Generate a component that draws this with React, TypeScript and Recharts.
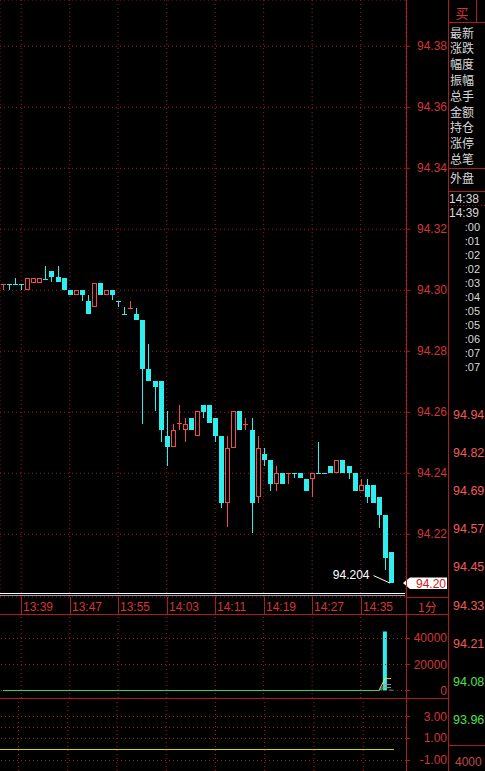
import React from "react";
import { ComposedChart, Bar, Line, XAxis, YAxis, CartesianGrid, ReferenceLine, Cell } from "recharts";

// 1-minute candles, 13:36 .. 14:40
const times = [
  "13:36", "13:37", "13:38", "13:39", "13:40", "13:41", "13:42", "13:43", "13:44", "13:45",
  "13:46", "13:47", "13:48", "13:49", "13:50", "13:51", "13:52", "13:53", "13:54", "13:55",
  "13:56", "13:57", "13:58", "13:59", "14:00", "14:01", "14:02", "14:03", "14:04", "14:05",
  "14:06", "14:07", "14:08", "14:09", "14:10", "14:11", "14:12", "14:13", "14:14", "14:15",
  "14:16", "14:17", "14:18", "14:19", "14:20", "14:21", "14:22", "14:23", "14:24", "14:25",
  "14:26", "14:27", "14:28", "14:29", "14:30", "14:31", "14:32", "14:33", "14:34", "14:35",
  "14:36", "14:37", "14:38", "14:39", "14:40",
];

const opens = [
  94.302, 94.3022, 94.3022, 94.3022, 94.3, 94.3025, 94.3025, 94.3038, 94.3063, 94.3045,
  94.304, 94.3, 94.2985, 94.3, 94.2966, 94.2944, 94.3023, 94.2985, 94.3, 94.2966,
  94.2923, 94.2942, 94.2922, 94.2903, 94.2742, 94.2704, 94.2704, 94.2523, 94.2485, 94.256,
  94.2542, 94.2582, 94.2523, 94.2624, 94.2624, 94.2582, 94.2523, 94.2304, 94.2484, 94.2604,
  94.2558, 94.2543, 94.2323, 94.2463, 94.2444, 94.2364, 94.24, 94.24, 94.2401, 94.24,
  94.2381, 94.2381, 94.2401, 94.2401, 94.2424, 94.24, 94.2444, 94.2424, 94.24, 94.2342,
  94.2362, 94.2362, 94.2323, 94.2263, 94.2143,
];
const highs = [
  94.302, 94.3022, 94.304, 94.3022, 94.304, 94.304, 94.304, 94.308, 94.3063, 94.308,
  94.304, 94.3, 94.3, 94.3, 94.2985, 94.3023, 94.3023, 94.3, 94.3, 94.2966,
  94.2944, 94.2965, 94.2942, 94.2903, 94.2824, 94.2704, 94.2704, 94.2604, 94.2562, 94.2624,
  94.2582, 94.2582, 94.2604, 94.2624, 94.2624, 94.2582, 94.2523, 94.2523, 94.2604, 94.2604,
  94.2582, 94.2582, 94.2523, 94.2484, 94.2444, 94.2425, 94.24, 94.2401, 94.2401, 94.24,
  94.2381, 94.24, 94.2502, 94.2401, 94.2424, 94.2444, 94.2444, 94.2424, 94.24, 94.2381,
  94.2381, 94.2362, 94.2323, 94.2263, 94.2143,
];
const lows = [
  94.3, 94.3, 94.302, 94.3, 94.3, 94.3025, 94.3025, 94.3036, 94.3026, 94.3026,
  94.3, 94.2985, 94.2985, 94.2966, 94.2923, 94.2944, 94.2985, 94.2985, 94.2968, 94.2944,
  94.2922, 94.2942, 94.2903, 94.2562, 94.2704, 94.2604, 94.2504, 94.2425, 94.2485, 94.2542,
  94.2504, 94.2542, 94.2523, 94.2582, 94.2564, 94.2504, 94.2285, 94.2223, 94.2484, 94.2543,
  94.2543, 94.2203, 94.2304, 94.2425, 94.2343, 94.2343, 94.2364, 94.2364, 94.2384, 94.2384,
  94.2342, 94.2323, 94.24, 94.24, 94.24, 94.24, 94.24, 94.2381, 94.2342, 94.2342,
  94.2304, 94.2304, 94.2222, 94.2083, 94.204,
];
const closes = [
  94.302, 94.302, 94.302, 94.302, 94.304, 94.304, 94.304, 94.3036, 94.3045, 94.3026,
  94.3, 94.2985, 94.3, 94.2985, 94.2923, 94.3023, 94.2985, 94.3, 94.2985, 94.2965,
  94.2922, 94.2943, 94.2903, 94.2742, 94.2704, 94.2684, 94.2542, 94.2485, 94.2542, 94.2565,
  94.2562, 94.2542, 94.2604, 94.2602, 94.2564, 94.2523, 94.2304, 94.2484, 94.2604, 94.2543,
  94.2562, 94.2304, 94.2484, 94.2444, 94.2364, 94.24, 94.2364, 94.2401, 94.24, 94.2384,
  94.2342, 94.24, 94.24, 94.24, 94.24, 94.2444, 94.24, 94.24, 94.2342, 94.2362,
  94.2323, 94.2304, 94.2263, 94.2123, 94.204,
];

const volumes = [
  0, 0, 0, 0, 0, 0, 0, 0, 0, 0,
  0, 0, 0, 0, 0, 0, 0, 0, 0, 0,
  0, 0, 0, 0, 0, 0, 0, 0, 0, 0,
  0, 0, 0, 0, 0, 0, 0, 0, 0, 0,
  0, 0, 0, 0, 0, 0, 0, 0, 0, 0,
  0, 0, 0, 0, 0, 0, 0, 0, 0, 0,
  0, 0, 0, 45400, 600,
];
const volMa5 = [
  0, 0, 0, 0, 0, 0, 0, 0, 0, 0,
  0, 0, 0, 0, 0, 0, 0, 0, 0, 0,
  0, 0, 0, 0, 0, 0, 0, 0, 0, 0,
  0, 0, 0, 0, 0, 0, 0, 0, 0, 0,
  0, 0, 0, 0, 0, 0, 0, 0, 0, 0,
  0, 0, 0, 0, 0, 0, 0, 0, 0, 0,
  0, 0, 0, 9080, 9200,
];
const volMa10 = [
  0, 0, 0, 0, 0, 0, 0, 0, 0, 0,
  0, 0, 0, 0, 0, 0, 0, 0, 0, 0,
  0, 0, 0, 0, 0, 0, 0, 0, 0, 0,
  0, 0, 0, 0, 0, 0, 0, 0, 0, 0,
  0, 0, 0, 0, 0, 0, 0, 0, 0, 0,
  0, 0, 0, 0, 0, 0, 0, 0, 0, 0,
  0, 0, 0, 4540, 4600,
];
const volMa20 = [
  0, 0, 0, 0, 0, 0, 0, 0, 0, 0,
  0, 0, 0, 0, 0, 0, 0, 0, 0, 0,
  0, 0, 0, 0, 0, 0, 0, 0, 0, 0,
  0, 0, 0, 0, 0, 0, 0, 0, 0, 0,
  0, 0, 0, 0, 0, 0, 0, 0, 0, 0,
  0, 0, 0, 0, 0, 0, 0, 0, 0, 0,
  0, 0, 0, 2270, 2300,
];
const indicator = [
  0, 0, 0, 0, 0, 0, 0, 0, 0, 0,
  0, 0, 0, 0, 0, 0, 0, 0, 0, 0,
  0, 0, 0, 0, 0, 0, 0, 0, 0, 0,
  0, 0, 0, 0, 0, 0, 0, 0, 0, 0,
  0, 0, 0, 0, 0, 0, 0, 0, 0, 0,
  0, 0, 0, 0, 0, 0, 0, 0, 0, 0,
  0, 0, 0, 0, 0,
];

const timeTicks = ["13:39", "13:47", "13:55", "14:03", "14:11", "14:19", "14:27", "14:35"];
const priceTicks = [94.22, 94.24, 94.26, 94.28, 94.3, 94.32, 94.34, 94.36, 94.38];
const volTicks = [0, 20000, 40000];
const indTicks = [-1, 1, 3];
const indGrid = [-1, 1, 2, 3];

const quoteLabels = ["最新", "涨跌", "幅度", "振幅", "总手", "金额", "持仓", "涨停", "总笔"];
const tradeTimes = ["14:38", "14:39"];
const tradeSecs = [":00", ":01", ":02", ":02", ":03", ":04", ":05", ":05", ":06", ":07", ":07"];
const levelPrices = ["94.94", "94.82", "94.69", "94.57", "94.45", "94.33", "94.21", "94.08", "93.96"];
const levelUp = [true, true, true, true, true, true, true, false, false];

const UP = "#f04c4c";
const DOWN = "#2cf0f0";
const GRID = "#a81a1a";
const AXIS = "#b01c1c";
const LABEL = "#d23636";
const TEXT = "#d8d8d8";
const NUM = "'Liberation Sans', Arial, sans-serif";
const CJK = "'Noto Sans CJK SC', sans-serif";
const PLOT_R = 406;

const lowIdx = lows.indexOf(Math.min(...lows));
const lastIdx = times.length - 1;

const rows = times.map((t, i) => ({
  t,
  o: opens[i],
  h: highs[i],
  l: lows[i],
  c: closes[i],
  range: [lows[i], highs[i]],
  vol: volumes[i],
  ma5: volMa5[i],
  ma10: volMa10[i],
  ma20: volMa20[i],
  ind: indicator[i],
  isLow: i === lowIdx,
  isLast: i === lastIdx,
}));

function Candle(props: any) {
  const { x, y, width, height, payload } = props;
  if (!payload || payload.o == null) return null;
  const top = Math.min(y, y + height);
  const bot = Math.max(y, y + height);
  const span = payload.h - payload.l;
  const py = (v: number) => (span > 0 ? top + ((payload.h - v) / span) * (bot - top) : top);
  const up = payload.c >= payload.o;
  const col = up ? UP : DOWN;
  const bx = Math.round(x + width / 2 - 2.5);
  const cx = bx + 2.5;
  const yo = py(payload.o);
  const yc = py(payload.c);
  const b0 = Math.round(Math.min(yo, yc));
  const b1 = Math.round(Math.max(yo, yc));
  const t = Math.round(top);
  const b = Math.round(bot);
  const flat = b1 - b0 < 2;

  let body: React.ReactNode;
  if (flat) {
    body = (
      <g>
        <line x1={cx} x2={cx} y1={t} y2={Math.max(b, t + 1)} stroke={col} />
        <line x1={bx} x2={bx + 5} y1={b0 + 0.5} y2={b0 + 0.5} stroke={col} />
      </g>
    );
  } else if (up) {
    body = (
      <g>
        {b0 > t && <line x1={cx} x2={cx} y1={t} y2={b0} stroke={col} />}
        {b > b1 && <line x1={cx} x2={cx} y1={b1} y2={b} stroke={col} />}
        <rect x={bx + 0.5} y={b0 + 0.5} width={4} height={b1 - b0 - 1} fill="#000" stroke={col} />
      </g>
    );
  } else {
    body = (
      <g>
        <line x1={cx} x2={cx} y1={t} y2={b} stroke={col} />
        <rect x={bx} y={b0} width={5} height={b1 - b0} fill={col} />
      </g>
    );
  }

  const ly = bot;
  return (
    <g>
      {body}
      {payload.isLow && (
        <g>
          <line x1={cx - 1.5} y1={ly} x2={cx - 18} y2={ly - 7.5} stroke="#fff" />
          <text x={cx - 22} y={ly - 8} textAnchor="end" dominantBaseline="central" fill="#fff" fontSize={12} fontFamily={NUM}>
            {payload.l.toFixed(3)}
          </text>
        </g>
      )}
      {payload.isLast && (
        <g>
          <polygon
            points={`${PLOT_R - 3},${yc} ${PLOT_R + 4},${yc - 5.5} ${PLOT_R + 41},${yc - 5.5} ${PLOT_R + 41},${yc + 6} ${PLOT_R + 4},${yc + 6}`}
            fill="#fff"
          />
          <text x={PLOT_R + 40} y={yc + 0.5} textAnchor="end" dominantBaseline="central" fill="#d01818" fontSize={12} fontFamily={NUM}>
            {payload.c.toFixed(2)}
          </text>
        </g>
      )}
    </g>
  );
}

function TimeTick(props: any) {
  const { x, y, payload } = props;
  const lx = Math.round(x) + 0.5;
  return (
    <g>
      <line x1={lx} x2={lx} y1={y} y2={y + 17} stroke={AXIS} />
      <text x={lx + 1.5} y={y + 9.5} dominantBaseline="central" fill={LABEL} fontSize={12} fontFamily={NUM}>
        {payload.value}
      </text>
    </g>
  );
}

function RightTick(props: any) {
  const { y, payload, digits } = props;
  return (
    <text x={447} y={y} textAnchor="end" dominantBaseline="central" fill={LABEL} fontSize={12} fontFamily={NUM}>
      {digits != null ? Number(payload.value).toFixed(digits) : payload.value}
    </text>
  );
}

function Overlay() {
  return (
    <svg width={485} height={771} style={{ position: "absolute", left: 0, top: 0, pointerEvents: "none" }}>
      <line x1={406.5} x2={406.5} y1={0} y2={771} stroke={AXIS} />
      <line x1={448.5} x2={448.5} y1={0} y2={771} stroke={AXIS} />
      <line x1={0} x2={405} y1={593.5} y2={593.5} stroke="#ffffff" />
      <line x1={0} x2={405} y1={595.5} y2={595.5} stroke="#9a9ab8" />
      <line x1={406} x2={448} y1={597.5} y2={597.5} stroke={AXIS} />
      <line x1={0} x2={448} y1={614.5} y2={614.5} stroke={AXIS} />
      <line x1={0} x2={448} y1={698.5} y2={698.5} stroke={AXIS} />
      <text x={418} y={606} dominantBaseline="central" fill={LABEL} fontSize={12} fontFamily={CJK}>
        1分
      </text>

      <line x1={448} x2={485} y1={22.5} y2={22.5} stroke={AXIS} />
      <line x1={476.5} x2={476.5} y1={0} y2={22} stroke={AXIS} />
      <text x={462} y={12} textAnchor="middle" dominantBaseline="central" fill={LABEL} fontSize={13} fontFamily={CJK}>
        买
      </text>
      {quoteLabels.map((s, i) => (
        <text key={s} x={450} y={32 + i * 15.8} dominantBaseline="central" fill={TEXT} fontSize={12} fontFamily={CJK}>
          {s}
        </text>
      ))}
      <line x1={448} x2={485} y1={168.5} y2={168.5} stroke={AXIS} />
      <text x={450} y={177} dominantBaseline="central" fill={TEXT} fontSize={12} fontFamily={CJK}>
        外盘
      </text>
      <line x1={448} x2={485} y1={191.5} y2={191.5} stroke={AXIS} />
      {tradeTimes.map((s, i) => (
        <text key={s} x={449} y={199 + i * 14} dominantBaseline="central" fill={TEXT} fontSize={12} fontFamily={NUM}>
          {s}
        </text>
      ))}
      <line x1={448} x2={485} y1={205.5} y2={205.5} stroke={GRID} strokeDasharray="1 2" />
      {tradeSecs.map((s, i) => (
        <text key={i} x={480} y={227 + i * 14.03} textAnchor="end" dominantBaseline="central" fill={TEXT} fontSize={11} fontFamily={NUM}>
          {s}
        </text>
      ))}
      {levelPrices.map((s, i) => (
        <text key={s} x={453} y={415 + i * 38.1} dominantBaseline="central" fill={levelUp[i] ? "#f05a5a" : "#50e050"} fontSize={12.5} fontFamily={NUM}>
          {s}
        </text>
      ))}
      <line x1={448} x2={485} y1={745.5} y2={745.5} stroke={AXIS} />
      <text x={455} y={762} dominantBaseline="central" fill="#c04848" fontSize={12} fontFamily={NUM}>
        4000
      </text>
    </svg>
  );
}

const margin = { top: 0, right: 0, bottom: 0, left: 0 };
const xPad = { left: 0, right: 12 };

export default function App() {
  return (
    <div style={{ position: "absolute", left: 0, top: 0, width: 485, height: 771, background: "#000", overflow: "hidden" }}>
      <div style={{ position: "absolute", left: 0, top: 0 }}>
        <ComposedChart width={448} height={614} data={rows} margin={margin}>
          <CartesianGrid stroke={GRID} strokeDasharray="1 3" />
          <XAxis
            dataKey="t"
            ticks={timeTicks}
            interval={0}
            height={17}
            tickSize={0}
            tickMargin={0}
            axisLine={false}
            tickLine={false}
            padding={xPad}
            tick={(p: any) => <TimeTick {...p} />}
          />
          <YAxis
            orientation="right"
            width={42}
            domain={[94.19944, 94.39518]}
            allowDataOverflow
            ticks={priceTicks}
            interval={0}
            axisLine={false}
            tickSize={4}
            tickLine={{ stroke: AXIS }}
            tick={(p: any) => <RightTick {...p} digits={2} />}
          />
          <Bar dataKey="range" barSize={5} isAnimationActive={false} shape={(p: any) => <Candle {...p} />} />
        </ComposedChart>
      </div>

      <div style={{ position: "absolute", left: 0, top: 614 }}>
        <ComposedChart width={448} height={84} data={rows} margin={margin}>
          <XAxis dataKey="t" hide padding={xPad} />
          <YAxis
            orientation="right"
            width={42}
            domain={[-5769, 58846]}
            allowDataOverflow
            ticks={volTicks}
            interval={0}
            axisLine={false}
            tickSize={4}
            tickLine={{ stroke: AXIS }}
            tick={(p: any) => <RightTick {...p} />}
          />
          {volTicks.map((v) => (
            <ReferenceLine key={v} y={v} stroke={GRID} strokeDasharray="1 3" />
          ))}
          {timeTicks.map((t) => (
            <ReferenceLine key={t} x={t} stroke={GRID} strokeDasharray="1 3" />
          ))}
          <Bar dataKey="vol" barSize={4} isAnimationActive={false}>
            {rows.map((r, i) => (
              <Cell key={i} fill={r.c >= r.o ? UP : DOWN} />
            ))}
          </Bar>
          <Line dataKey="ma5" stroke="#e8e83a" dot={false} strokeWidth={1} isAnimationActive={false} />
          <Line dataKey="ma10" stroke="#ff48ff" dot={false} strokeWidth={1} isAnimationActive={false} />
          <Line dataKey="ma20" stroke="#3cd23c" dot={false} strokeWidth={1} isAnimationActive={false} />
        </ComposedChart>
      </div>

      <div style={{ position: "absolute", left: 0, top: 698 }}>
        <ComposedChart width={448} height={73} data={rows} margin={margin}>
          <XAxis dataKey="t" hide padding={xPad} />
          <YAxis
            orientation="right"
            width={42}
            domain={[-1.955, 4.682]}
            allowDataOverflow
            ticks={indTicks}
            interval={0}
            axisLine={false}
            tickSize={4}
            tickLine={{ stroke: AXIS }}
            tick={(p: any) => <RightTick {...p} digits={2} />}
          />
          {indGrid.map((v) => (
            <ReferenceLine key={v} y={v} stroke={GRID} strokeDasharray="1 3" />
          ))}
          {timeTicks.map((t) => (
            <ReferenceLine key={t} x={t} stroke={GRID} strokeDasharray="1 3" />
          ))}
          <Line dataKey="ind" stroke="#d4d400" dot={false} strokeWidth={1} isAnimationActive={false} style={{ shapeRendering: "crispEdges" }} />
        </ComposedChart>
      </div>

      <Overlay />
    </div>
  );
}
